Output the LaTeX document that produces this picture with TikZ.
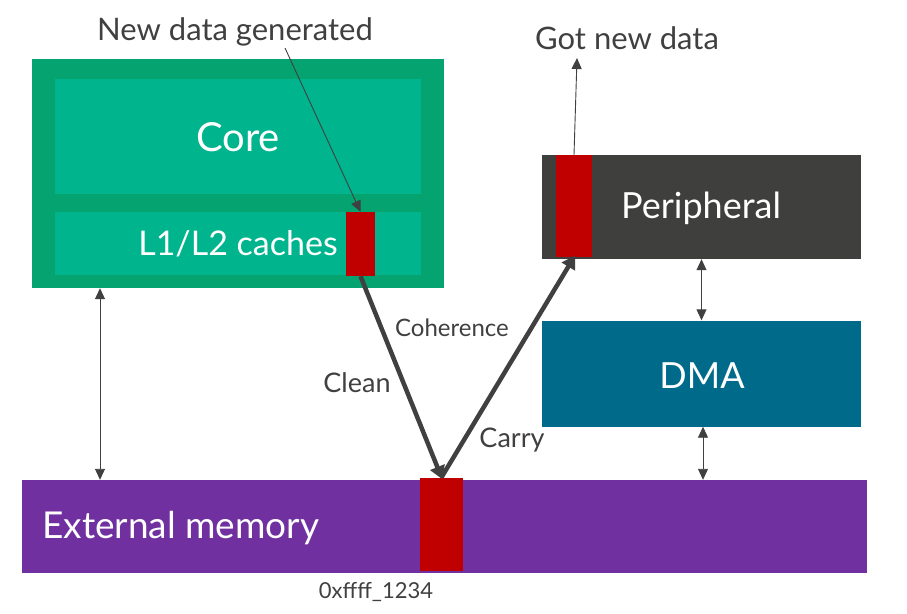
\documentclass[tikz,border=0pt]{standalone}
\usepackage{fontspec}
\setmainfont{Lato}
\usetikzlibrary{arrows.meta}
\definecolor{outergreen}{HTML}{04A370}
\definecolor{innergreen}{HTML}{00B48D}
\definecolor{periphgray}{HTML}{3F3F3E}
\definecolor{dmablue}{HTML}{006A8B}
\definecolor{mempurple}{HTML}{7030A0}
\definecolor{datared}{HTML}{C00000}
\definecolor{txtgray}{HTML}{404040}
\tikzset{
  blk/.style={rectangle, inner sep=0pt, draw=none},
  lbl/.style={inner sep=0pt, text=txtgray},
  thin/.style={draw=txtgray, line width=0.9pt, -{Triangle[length=11pt,width=10pt]}},
  dbl/.style={draw=txtgray, line width=0.9pt, {Triangle[length=11pt,width=10pt]}-{Triangle[length=11pt,width=10pt]}},
  thick/.style={draw=txtgray, line width=4.5pt, -{Triangle[length=13pt,width=15pt]}, shorten >=-2pt},
}
\begin{document}
\begin{tikzpicture}[x=1pt,y=-1pt]
\useasboundingbox (0,0) rectangle (907,613);
% blocks
\node[blk, fill=outergreen, minimum width=412pt, minimum height=229pt] (outer) at (238,173.5) {};
\node[blk, fill=innergreen, minimum width=366pt, minimum height=115pt] (core) at (238,136.5) {};
\node[blk, fill=innergreen, minimum width=366pt, minimum height=63pt] (cache) at (238,243.5) {};
\node[blk, fill=datared, minimum width=29pt, minimum height=64pt] (cachered) at (360.5,244) {};
\node[blk, fill=periphgray, minimum width=319pt, minimum height=104pt] (periph) at (701.5,207) {};
\node[blk, fill=datared, minimum width=36pt, minimum height=102pt] (perred) at (574,206) {};
\node[blk, fill=dmablue, minimum width=319pt, minimum height=106pt] (dma) at (701.5,373.5) {};
\node[blk, fill=mempurple, minimum width=845pt, minimum height=93pt] (mem) at (444.5,526.5) {};
\node[blk, fill=datared, minimum width=43pt, minimum height=93pt] (memred) at (441.5,524) {};
% block texts
\node[lbl, text=white, font=\fontsize{40}{46}\selectfont] (coretxt) at (238,137) {Core};
\node[lbl, text=white, font=\fontsize{34}{40}\selectfont] (cachetxt) at (238,244) {L1/L2 caches};
\node[lbl, text=white, font=\fontsize{36}{42}\selectfont] (periphtxt) at (701,208) {Peripheral};
\node[lbl, text=white, font=\fontsize{36}{42}\selectfont] (dmatxt) at (702,376) {DMA};
\node[lbl, text=white, font=\fontsize{37}{43}\selectfont, anchor=west] (memtxt) at (42,528) {External memory};
% labels
\node[lbl, font=\fontsize{31}{36}\selectfont] (newdata) at (235,32) {New data generated};
\node[lbl, font=\fontsize{31}{36}\selectfont] (gotnew) at (627,38) {Got new data};
\node[lbl, font=\fontsize{24}{28}\selectfont] (coh) at (452,328) {Coherence};
\node[lbl, font=\fontsize{27}{32}\selectfont] (clean) at (357,383) {Clean};
\node[lbl, font=\fontsize{27}{32}\selectfont] (carry) at (512,440) {Carry};
\node[lbl, font=\fontsize{22}{26}\selectfont] (addr) at (376,592) {0xffff\_1234};
% helper coordinates
\coordinate (ndstart) at (285,48);
\coordinate (gotend) at (577,58);
\coordinate (lx) at (100,0);
\coordinate (rx) at (703,0);
% connectors
\draw[thin] (ndstart) -- (cachered.north);
\draw[thin] (perred.north) -- (gotend);
\draw[thick] (cachered.south) -- (memred.north);
\draw[thick] (memred.north) -- (perred.south);
\draw[dbl] (outer.south -| lx) -- (mem.north -| lx);
\draw[dbl] (periph.south) -- (dma.north);
\draw[dbl] (dma.south -| rx) -- (mem.north -| rx);
\end{tikzpicture}
\end{document}
